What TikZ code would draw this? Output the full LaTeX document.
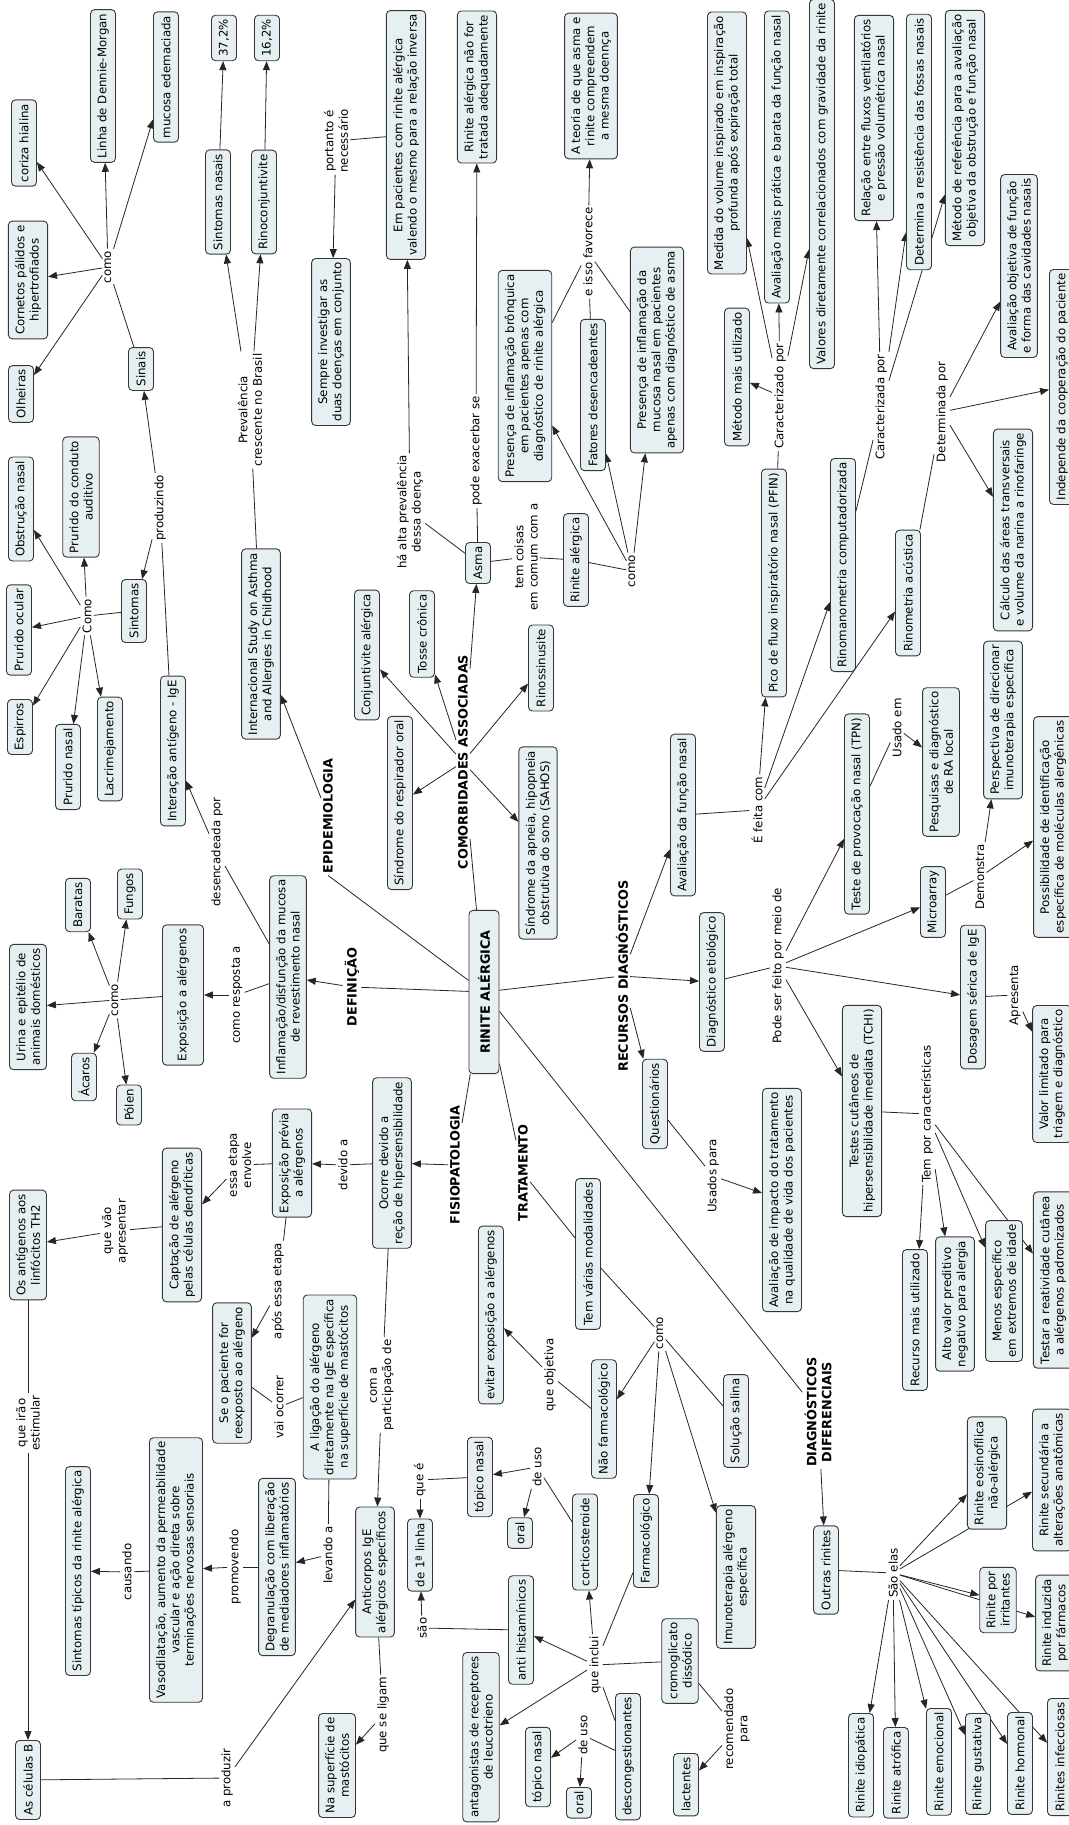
\documentclass[tikz,border=0pt]{standalone}
\usepackage{fontspec}
\setmainfont{DejaVu Sans}
\usetikzlibrary{arrows.meta,backgrounds}
\definecolor{cmapfill}{RGB}{230,240,242}
\definecolor{cmapline}{RGB}{55,55,55}
\newcommand{\cmapfont}{\fontsize{11.8}{14.3}\selectfont}
\newcommand{\topicfont}{\fontsize{12.8}{15}\selectfont\bfseries}

\begin{document}
\begin{tikzpicture}[x=1pt, y=-1pt,
    concept/.style={rectangle, rounded corners=4pt, draw=cmapline, line width=0.9pt, fill=cmapfill,
      rotate=90, align=center, inner xsep=4pt, inner ysep=6.5pt, minimum height=25pt, font=\cmapfont},
    phrase/.style={rotate=90, align=center, inner sep=2pt, font=\cmapfont},
    topic/.style={rotate=90, align=center, inner sep=2pt, font=\topicfont},
    conn/.style={draw=black!85, line width=0.8pt},
    connarr/.style={conn, -{Triangle[length=9pt,width=7pt]}}
  ]
  \useasboundingbox (0,0) rectangle (1068,1825);

  % centro
  \node[concept, font=\topicfont, inner xsep=20pt, minimum height=30pt] (rinite) at (484,992) {RINITE ALÉRGICA};
  \node[topic] (epidemio) at (328,816) {EPIDEMIOLOGIA};
  \node[topic] (definicao) at (352,987) {DEFINIÇÃO};
  \node[topic] (comorb) at (463,762) {COMORBIDADES ASSOCIADAS};
  \node[topic] (recursos) at (622,976) {RECURSOS DIAGNÓSTICOS};
  \node[topic] (fisio) at (455,1165) {FISIOPATOLOGIA};
  \node[topic] (tratamento) at (523,1173) {TRATAMENTO};
  \node[topic] (difer) at (818,1412) {DIAGNÓSTICOS\\DIFERENCIAIS};

  % sinais e sintomas
  \node[concept] (coriza) at (24,143) {coriza hialina};
  \node[concept] (dennie) at (103,86) {Linha de Dennie-Morgan};
  \node[concept] (mucosa) at (166,77) {mucosa edemaciada};
  \node[concept] (cornetos) at (28,280) {Cornetos pálidos e\\hipertrofiados};
  \node[concept] (olheiras) at (21,394) {Olheiras};
  \node[concept] (sinais) at (141,369) {Sinais};
  \node[phrase] (lsinais) at (108,267) {como};
  \node[concept] (obstrucao) at (21,509) {Obstrução nasal};
  \node[concept] (conduto) at (81,497) {Prurido do conduto\\auditivo};
  \node[concept] (ocular) at (19,630) {Prurido ocular};
  \node[concept] (sintomas) at (134,611) {Sintomas};
  \node[concept] (espirros) at (20,727) {Espirros};
  \node[concept] (pruridonasal) at (68,767) {Prurido nasal};
  \node[concept] (lacrimej) at (110,749) {Lacrimejamento};
  \node[phrase] (lsintomas) at (87,616) {Como};
  \node[phrase] (lproduzindo) at (160,508) {produzindo};
  \node[concept] (interacao) at (173,751) {Interação antígeno - IgE};

  % epidemiologia
  \node[concept] (p372) at (224,38) {37,2\%};
  \node[concept] (p162) at (267,38) {16,2\%};
  \node[concept] (sintnasais) at (218,202) {Sintomas nasais};
  \node[concept] (rinoconj) at (264,202) {Rinoconjuntivite};
  \node[phrase] (lprev) at (250,410) {Prevalência\\crescente no Brasil};
  \node[concept] (isaac) at (261,644) {Internacional Study on Asthma\\and Allergies in Childhood};

  % comorbidades
  \node[concept] (sempre) at (331,342) {Sempre investigar as\\duas doenças em conjunto};
  \node[phrase] (lportanto) at (336,141) {portanto é\\necessário};
  \node[concept] (empac) at (406,135) {Em pacientes com rinite alérgica\\valendo o mesmo para a relação inversa};
  \node[concept] (naotratada) at (477,87) {Rinite alérgica não for\\tratada adequadamente};
  \node[concept] (teoria) at (591,86) {A teoria de que asma e\\rinite compreendem\\a mesma doennça};
  \node[phrase] (lfavorece) at (588,252) {e isso favorece};
  \node[concept] (presbronq) at (525,376) {Presença de inflamação brônquica\\em pacientes apenas com\\diagnóstico de rinite alérgica};
  \node[concept] (fatores) at (593,395) {Fatores desencadeantes};
  \node[concept] (presmuc) at (657,350) {Presença de inflamação da\\mucosa nasal em pacientes\\apenas com diagnóstico de asma};
  \node[phrase] (lalta) at (410,512) {há alta prevalência\\dessa doença};
  \node[phrase] (lexacerbar) at (476,451) {pode exacerbar se};
  \node[concept] (asma) at (478,563) {Asma};
  \node[phrase] (lcomum) at (526,557) {tem coisas\\em comum com a};
  \node[concept] (rinitealerg) at (576,560) {Rinite alérgica};
  \node[phrase] (lrinalerg) at (632,571) {como};
  \node[concept] (conjuntivite) at (367,655) {Conjuntivite alérgica};
  \node[concept] (tosse) at (422,634) {Tosse crônica};
  \node[concept] (rinossin) at (541,668) {Rinossinusite};
  \node[concept] (respirador) at (400,803) {Síndrome do respirador oral};
  \node[concept] (apneia) at (538,843) {Síndrome da apneia, hipopneia\\obstrutiva do sono (SAHOS)};

  % recursos diagnosticos
  \node[concept] (medida) at (727,143) {Medida do volume inspirado em inspiração\\profunda após expiração total};
  \node[concept] (pratica) at (777,157) {Avaliação mais prática e barata da função nasal};
  \node[concept] (valores) at (822,184) {Valores diretamente correlacionados com gravidade da rinite};
  \node[concept] (maisutil) at (737,377) {Método mais utilizado};
  \node[phrase] (lcaracterizado) at (780,396) {Caracterizado por};
  \node[concept] (relacao) at (874,118) {Relação entre fluxos ventilatórios\\e pressão volumétrica nasal};
  \node[concept] (resist) at (919,142) {Determina a resistência das fossas nasais};
  \node[concept] (referencia) at (965,128) {Método de referência para a avaliação\\objetiva da obstrução e função nasal};
  \node[phrase] (lcaracterizada) at (881,407) {Caracterizada por};
  \node[concept] (objetiva) at (1019,266) {Avaliação objetiva de função\\e forma das cavidades nasais};
  \node[concept] (independe) at (1062,387) {Independe da cooperação do paciente};
  \node[concept] (calculo) at (1013,530) {Cálculo das áreas transversais\\e volume da narina a rinofaringe};
  \node[phrase] (ldeterminada) at (942,412) {Determinada por};
  \node[concept] (pico) at (774,583) {Pico de fluxo inspiratório nasal (PFIN)};
  \node[concept] (rinomano) at (843,565) {Rinomanometria computadorizada};
  \node[concept] (acustica) at (908,593) {Rinometria acústica};
  \node[phrase] (lfeita) at (757,810) {É feita com};
  \node[concept] (funcaonasal) at (683,815) {Avaliação da função nasal};
  \node[concept] (tpn) at (857,814) {Teste de provocação nasal (TPN)};
  \node[phrase] (lusado) at (897,728) {Usado em};
  \node[concept] (pesquisas) at (941,762) {Pesquisas e diagnóstico\\de RA local};
  \node[concept] (perspectiva) at (1003,720) {Perspectiva de direcionar\\imunoterapia específica};
  \node[concept] (possib) at (1053,827) {Possibilidade de identificação\\específica de moléculas alergênicas};
  \node[concept] (microarray) at (933,902) {Microarray};
  \node[phrase] (ldemonstra) at (980,877) {Demonstra};
  \node[concept] (etiologico) at (712,982) {Diagnóstico etiológico};
  \node[phrase] (lpode) at (778,966) {Pode ser feito por meio de};
  \node[concept] (dosagem) at (973,997) {Dosagem sérica de IgE};
  \node[phrase] (lapresenta) at (1015,995) {Apresenta};
  \node[concept] (valorlim) at (1052,1074) {Valor limitado para\\triagem e diagnóstico};
  \node[concept] (tchi) at (862,1111) {Testes cutâneos de\\hipersensibilidade imediata (TCHI)};
  \node[phrase] (lcaract) at (927,1114) {Tem por características};
  \node[concept] (recurso) at (915,1320) {Recurso mais utilizado};
  \node[concept] (preditivo) at (955,1304) {Alto valor preditivo\\negativo para alergia};
  \node[concept] (menosesp) at (1004,1291) {Menos específico\\em extremos de idade};
  \node[concept] (testar) at (1053,1280) {Testar a reatividade cutânea\\a alérgenos padronizados};
  \node[concept] (questionarios) at (655,1104) {Questionários};
  \node[phrase] (lusados) at (713,1176) {Usados para};
  \node[concept] (impacto) at (782,1200) {Avaliação de impacto do tratamento\\na qualidade de vida dos pacientes};

  % definicao
  \node[concept] (urina) at (28,1007) {Urina e epitélio de\\animais domésticos};
  \node[concept] (baratas) at (78,905) {Baratas};
  \node[concept] (fungos) at (130,894) {Fungos};
  \node[concept] (acaros) at (84,1077) {Ácaros};
  \node[concept] (polen) at (129,1105) {Pólen};
  \node[phrase] (lalergenos) at (115,1000) {como};
  \node[concept, minimum height=41pt] (exposicao) at (183,995) {Exposição a alérgenos};
  \node[phrase] (lresposta) at (237,995) {como resposta a};
  \node[concept] (inflamacao) at (288,977) {Inflamação/disfunção da mucosa\\de revestimento nasal};
  \node[phrase] (ldesenc) at (217,852) {desencadeada por};

  % fisiopatologia
  \node[concept] (ocorre) at (392,1163) {Ocorre devido a\\reção de hipersensibilidade};
  \node[phrase] (ldevido) at (343,1165) {devido a};
  \node[concept] (previa) at (292,1163) {Exposição prévia\\a alérgenos};
  \node[phrase] (lenvolve) at (240,1165) {essa etapa\\envolve};
  \node[concept] (captacao) at (182,1225) {Captação de alérgeno\\pelas células dendríticas};
  \node[phrase] (lapresentar) at (115,1231) {que vão\\apresentar};
  \node[concept] (antigenos) at (28,1245) {Os antígenos aos\\linfócitos TH2};
  \node[phrase] (lapos) at (278,1291) {após essa etapa};
  \node[concept] (reexposto) at (232,1373) {Se o paciente for\\reexposto ao alérgeno};
  \node[phrase] (locorrer) at (279,1407) {vai ocorrer};
  \node[concept] (ligacao) at (330,1387) {A ligação do alérgeno\\diretamente na IgE específica\\na superfície de mastócitos};
  \node[phrase] (llevando) at (328,1555) {levando a};
  \node[concept] (degranul) at (277,1567) {Degranulação com liberação\\de mediadores inflamatórios};
  \node[phrase] (lpromovendo) at (235,1567) {promovendo};
  \node[concept] (vasodil) at (176,1570) {Vasodilatação, aumento da permeabilidade\\vascular e ação direta sobre\\terminações nervosas sensoriais};
  \node[phrase] (lcausando) at (127,1572) {causando};
  \node[concept] (sinttipicos) at (78,1571) {Sintomas típicos da rinite alérgica};
  \node[phrase] (lestimular) at (28,1423) {que irão\\estimular};
  \node[concept, anchor=east] (celulasb) at (28,1740) {As células B};
  \node[phrase] (lproduzir) at (227,1778) {a produzir};
  \node[phrase] (lparticip) at (382,1385) {com a\\participação de};
  \node[concept] (anticorpos) at (375,1572) {Anticorpos IgE\\alérgicos específicos};
  \node[phrase] (lligam) at (383,1715) {que se ligam};
  \node[concept, anchor=east] (superficie) at (337,1713) {Na superfície de\\mastócitos};

  % tratamento
  \node[concept] (modalidades) at (588,1254) {Tem várias modalidades};
  \node[phrase] (ltratam) at (660,1333) {como};
  \node[concept] (naofarmaco) at (604,1419) {Não farmacológico};
  \node[phrase] (lobjetiva) at (550,1375) {que objetiva};
  \node[concept] (evitar) at (491,1315) {evitar exposição a alérgenos};
  \node[concept] (farmaco) at (646,1541) {Farmacológico};
  \node[concept] (imuno) at (736,1577) {Imunoterapia alérgeno\\específica};
  \node[concept] (salina) at (736,1421) {Solução salina};
  \node[phrase] (linclui) at (595,1665) {que inclui};
  \node[concept] (cortico) at (585,1542) {corticosteroide};
  \node[phrase] (ldeuso1) at (537,1467) {de uso};
  \node[concept] (topico1) at (480,1477) {tópico nasal};
  \node[concept] (oral1) at (520,1533) {oral};
  \node[phrase] (lquee) at (420,1480) {que é};
  \node[concept] (primlinha) at (420,1555) {de 1ª linha};
  \node[phrase] (lsao) at (422,1628) {são};
  \node[concept] (antihist) at (521,1630) {anti histamínicos};
  \node[concept, anchor=east] (antagon) at (481,1652) {antagonistas de receptores\\de leucotrieno};
  \node[concept] (topico2) at (538,1767) {tópico nasal};
  \node[concept, anchor=east] (oral2) at (579,1787) {oral};
  \node[phrase] (ldeuso2) at (583,1735) {de uso};
  \node[concept, anchor=east] (descong) at (628,1693) {descongestionantes};
  \node[concept] (cromo) at (680,1661) {cromoglicato\\dissódico};
  \node[phrase] (lrecomendado) at (737,1729) {recomendado\\para};
  \node[concept, anchor=east] (lactentes) at (686,1753) {lactentes};

  % diagnosticos diferenciais
  \node[concept] (outras) at (826,1570) {Outras rinites};
  \node[phrase] (lsaoelas) at (893,1573) {São elas};
  \node[concept] (eosino) at (987,1473) {Rinite eosinofílica\\não-alérgica};
  \node[concept] (secundaria) at (1052,1480) {Rinite secundária a\\alterações anatômicas};
  \node[concept] (irritantes) at (998,1600) {Rinite por\\irritantes};
  \node[concept] (induzida) at (1055,1623) {Rinite induzida\\por fármacos};
  \node[concept, anchor=east] (idiopatica) at (861,1713) {Rinite idiopática};
  \node[concept, anchor=east] (atrofica) at (896,1727) {Rinite atrófica};
  \node[concept, anchor=east] (emocional) at (939,1708) {Rinite emocional};
  \node[concept, anchor=east] (gustativa) at (978,1713) {Rinite gustativa};
  \node[concept, anchor=east] (hormonal) at (1020,1712) {Rinite hormonal};
  \node[concept, anchor=east] (infecciosas) at (1060,1698) {Rinites infecciosas};

  \begin{pgfonlayer}{background}
    \fill[white] (0,0) rectangle (1068,1825);
    % centro
    \draw[conn] (rinite) -- (epidemio.west);
    \draw[conn] (rinite) -- (definicao);
    \draw[conn] (rinite) -- (comorb);
    \draw[conn] (rinite) -- (recursos);
    \draw[conn] (rinite) -- (fisio);
    \draw[conn] (rinite) -- (tratamento);
    \draw[conn] (rinite) -- (difer);
    % sinais e sintomas
    \draw[conn] (sinais) -- (lsinais);
    \draw[connarr] (lsinais) -- (olheiras);
    \draw[connarr] (lsinais) -- (cornetos);
    \draw[connarr] (lsinais) -- (coriza);
    \draw[connarr] (lsinais) -- (dennie);
    \draw[connarr] (lsinais) -- (mucosa);
    \draw[conn] (sintomas) -- (lsintomas);
    \draw[connarr] (lsintomas) -- (obstrucao);
    \draw[connarr] (lsintomas) -- (conduto);
    \draw[connarr] (lsintomas) -- (ocular);
    \draw[connarr] (lsintomas) -- (espirros);
    \draw[connarr] (lsintomas) -- (pruridonasal);
    \draw[connarr] (lsintomas) -- (lacrimej);
    \draw[conn] (interacao) -- (lproduzindo);
    \draw[connarr] (lproduzindo) -- (sintomas);
    \draw[connarr] (lproduzindo) -- (sinais);
    % epidemiologia
    \draw[connarr] (epidemio) -- (isaac);
    \draw[conn] (isaac) -- (lprev);
    \draw[connarr] (lprev) -- (sintnasais);
    \draw[connarr] (lprev) -- (rinoconj);
    \draw[connarr] (sintnasais) -- (p372);
    \draw[connarr] (rinoconj) -- (p162);
    % comorbidades
    \draw[connarr] (comorb) -- (asma);
    \draw[connarr] (comorb) -- (tosse);
    \draw[connarr] (comorb) -- (conjuntivite);
    \draw[connarr] (comorb) -- (rinossin);
    \draw[connarr] (comorb) -- (respirador);
    \draw[connarr] (comorb) -- (apneia);
    \draw[conn] (asma) -- (lalta);
    \draw[connarr] (lalta) -- (empac);
    \draw[conn] (empac) -- (lportanto);
    \draw[connarr] (lportanto) -- (sempre);
    \draw[conn] (asma) -- (lexacerbar);
    \draw[connarr] (lexacerbar) -- (naotratada);
    \draw[conn] (asma) -- (lcomum);
    \draw[conn] (lcomum) -- (rinitealerg);
    \draw[conn] (rinitealerg) -- (lrinalerg);
    \draw[connarr] (lrinalerg) -- (presbronq);
    \draw[connarr] (lrinalerg) -- (fatores);
    \draw[connarr] (lrinalerg) -- (presmuc);
    \draw[conn] (presbronq) -- (lfavorece);
    \draw[conn] (fatores) -- (lfavorece);
    \draw[conn] (presmuc) -- (lfavorece);
    \draw[connarr] (lfavorece) -- (teoria);
    % definicao
    \draw[connarr] (definicao) -- (inflamacao);
    \draw[conn] (inflamacao) -- (lresposta);
    \draw[connarr] (lresposta) -- (exposicao);
    \draw[conn] (exposicao) -- (lalergenos);
    \draw[connarr] (lalergenos) -- (urina);
    \draw[connarr] (lalergenos) -- (baratas);
    \draw[connarr] (lalergenos) -- (fungos);
    \draw[connarr] (lalergenos) -- (acaros);
    \draw[connarr] (lalergenos) -- (polen);
    \draw[conn] (inflamacao) -- (ldesenc);
    \draw[connarr] (ldesenc) -- (interacao);
    % recursos diagnosticos
    \draw[connarr] (recursos) -- (funcaonasal);
    \draw[connarr] (recursos) -- (etiologico);
    \draw[connarr] (recursos) -- (questionarios);
    \draw[conn] (funcaonasal) -- (lfeita);
    \draw[connarr] (lfeita) -- (pico);
    \draw[connarr] (lfeita) -- (rinomano);
    \draw[connarr] (lfeita) -- (acustica);
    \draw[conn] (pico) -- (lcaracterizado);
    \draw[connarr] (lcaracterizado) -- (maisutil);
    \draw[connarr] (lcaracterizado) -- (medida);
    \draw[connarr] (lcaracterizado) -- (pratica);
    \draw[connarr] (lcaracterizado) -- (valores);
    \draw[conn] (rinomano) -- (lcaracterizada);
    \draw[connarr] (lcaracterizada) -- (relacao);
    \draw[connarr] (lcaracterizada) -- (resist);
    \draw[connarr] (lcaracterizada) -- (referencia);
    \draw[conn] (acustica) -- (ldeterminada);
    \draw[connarr] (ldeterminada) -- (objetiva);
    \draw[connarr] (ldeterminada) -- (independe);
    \draw[connarr] (ldeterminada) -- (calculo);
    \draw[conn] (etiologico) -- (lpode);
    \draw[connarr] (lpode) -- (tpn);
    \draw[connarr] (lpode) -- (microarray);
    \draw[connarr] (lpode) -- (dosagem);
    \draw[connarr] (lpode) -- (tchi);
    \draw[conn] (tpn) -- (lusado);
    \draw[connarr] (lusado) -- (pesquisas);
    \draw[conn] (microarray) -- (ldemonstra);
    \draw[connarr] (ldemonstra) -- (perspectiva);
    \draw[connarr] (ldemonstra) -- (possib);
    \draw[conn] (dosagem) -- (lapresenta);
    \draw[connarr] (lapresenta) -- (valorlim);
    \draw[conn] (tchi) -- (lcaract);
    \draw[connarr] (lcaract) -- (recurso);
    \draw[connarr] (lcaract) -- (preditivo);
    \draw[connarr] (lcaract) -- (menosesp);
    \draw[connarr] (lcaract) -- (testar);
    \draw[conn] (questionarios) -- (lusados);
    \draw[connarr] (lusados) -- (impacto);
    % fisiopatologia
    \draw[connarr] (fisio) -- (ocorre);
    \draw[conn] (ocorre) -- (ldevido);
    \draw[connarr] (ldevido) -- (previa);
    \draw[conn] (previa) -- (lenvolve);
    \draw[connarr] (lenvolve) -- (captacao);
    \draw[conn] (captacao) -- (lapresentar);
    \draw[connarr] (lapresentar) -- (antigenos);
    \draw[conn] (antigenos) -- (lestimular);
    \draw[connarr] (lestimular) -- (celulasb);
    \draw[conn] (celulasb) -- (lproduzir);
    \draw[connarr] (lproduzir) -- (anticorpos);
    \draw[conn] (previa) -- (lapos);
    \draw[connarr] (lapos) -- (reexposto);
    \draw[conn] (reexposto) -- (locorrer);
    \draw[conn] (locorrer) -- (ligacao);
    \draw[conn] (ligacao) -- (llevando);
    \draw[connarr] (llevando) -- (degranul);
    \draw[conn] (degranul) -- (lpromovendo);
    \draw[connarr] (lpromovendo) -- (vasodil);
    \draw[conn] (vasodil) -- (lcausando);
    \draw[connarr] (lcausando) -- (sinttipicos);
    \draw[conn] (ocorre) -- (lparticip);
    \draw[connarr] (lparticip) -- (anticorpos);
    \draw[conn] (anticorpos) -- (lligam);
    \draw[connarr] (lligam) -- (superficie);
    % tratamento
    \draw[conn] (tratamento) -- (modalidades);
    \draw[conn] (modalidades) -- (ltratam);
    \draw[connarr] (ltratam) -- (naofarmaco);
    \draw[connarr] (ltratam) -- (farmaco);
    \draw[connarr] (ltratam) -- (imuno);
    \draw[conn] (ltratam) -- (salina);
    \draw[conn] (naofarmaco) -- (lobjetiva);
    \draw[connarr] (lobjetiva) -- (evitar);
    \draw[conn] (farmaco) -- (linclui);
    \draw[connarr] (linclui) -- (cortico);
    \draw[connarr] (linclui) -- (antihist);
    \draw[connarr] (linclui) -- (antagon);
    \draw[conn] (linclui) -- (cromo);
    \draw[conn] (linclui) -- (descong);
    \draw[conn] (cortico) -- (ldeuso1);
    \draw[connarr] (ldeuso1) -- (topico1);
    \draw[connarr] (ldeuso1) -- (oral1);
    \draw[conn] (topico1) -- (lquee);
    \draw[connarr] (lquee) -- (primlinha);
    \draw[conn] (antihist) -- (lsao);
    \draw[connarr] (lsao) -- (primlinha);
    \draw[conn] (descong) -- (ldeuso2);
    \draw[connarr] (ldeuso2) -- (topico2);
    \draw[connarr] (ldeuso2) -- (oral2);
    \draw[conn] (cromo) -- (lrecomendado);
    \draw[connarr] (lrecomendado) -- (lactentes);
    % diagnosticos diferenciais
    \draw[connarr] (difer) -- (outras);
    \draw[conn] (outras) -- (lsaoelas);
    \draw[connarr] (lsaoelas) -- (eosino);
    \draw[connarr] (lsaoelas) -- (secundaria);
    \draw[connarr] (lsaoelas) -- (irritantes);
    \draw[connarr] (lsaoelas) -- (induzida);
    \draw[connarr] (lsaoelas) -- (idiopatica);
    \draw[connarr] (lsaoelas) -- (atrofica);
    \draw[connarr] (lsaoelas) -- (emocional);
    \draw[connarr] (lsaoelas) -- (gustativa);
    \draw[connarr] (lsaoelas) -- (hormonal);
    \draw[connarr] (lsaoelas) -- (infecciosas);
  \end{pgfonlayer}
\end{tikzpicture}
\end{document}
